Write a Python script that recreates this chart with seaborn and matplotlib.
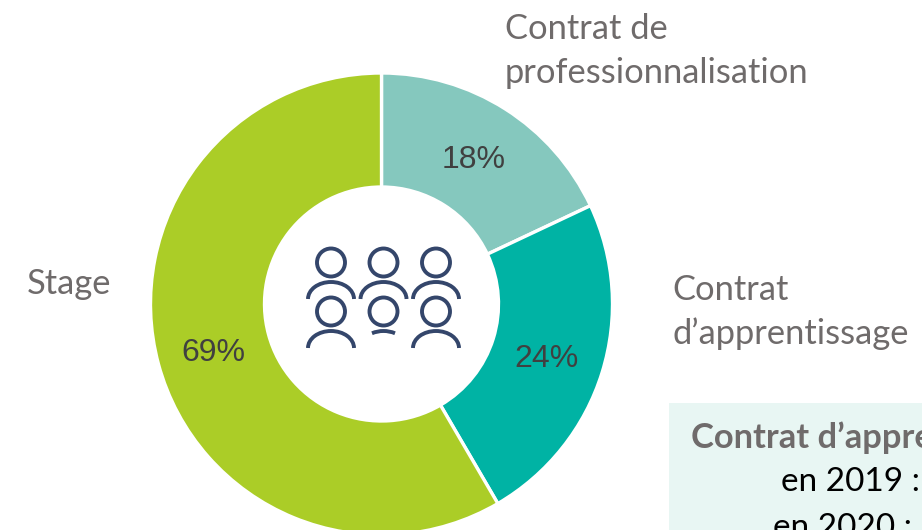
import matplotlib.pyplot as plt
import seaborn as sns
from matplotlib.patches import Arc, Circle, Rectangle

# data
categories = ["Contrat de\nprofessionnalisation", "Contrat\nd\u2019apprentissage", "Stage"]
# wedge sizes as drawn in the picture
wedge_sizes = [18, 23.6, 58.4]
# labels as printed in the picture
pct_labels = ["18%", "24%", "69%"]
colors = ["#85C8BE", "#00B3A4", "#ABCD27"]

W, H = 922, 530
GREY = "#6F6B6B"
NAVY = "#34466B"
TEXT = "#404040"
NARROW = ["Lato", "Roboto", "DejaVu Sans"]

sns.set_theme(style="white")
plt.rcParams["font.family"] = ["Liberation Sans", "DejaVu Sans"]


def fy(y):
    # pixel y from the top -> axes y
    return H - y


fig = plt.figure(figsize=(W / 100, H / 100), dpi=100)
ax = fig.add_axes([0, 0, 1, 1])

cx, cy, r_out, r_in = 381.5, fy(304), 231, 117
wedges, _ = ax.pie(wedge_sizes, colors=sns.color_palette(colors), startangle=90,
                   counterclock=False, center=(cx, cy), radius=r_out,
                   wedgeprops=dict(width=r_out - r_in, edgecolor="white", linewidth=2.4))
ax.set_xlim(0, W)
ax.set_ylim(0, H)
ax.set_aspect("equal")
ax.axis("off")

# percent labels
for lab, x, y in zip(pct_labels, [474, 547, 213], [160, 359, 353]):
    ax.text(x, fy(y), lab, fontsize=23, color=TEXT, ha="center", va="center")

# category labels
for lab, x, y in zip(categories, [505, 672, 27], [51, 312, 284]):
    ax.text(x, fy(y), lab, fontsize=24.8, color=GREY, ha="left", va="center",
            family=NARROW, linespacing=1.45)

# icon: people
for hx in [331, 383.5, 436]:
    for row, (hy, by) in enumerate([(262.5, 299), (311.5, 348)]):
        ax.add_patch(Circle((hx, fy(hy)), 14, fill=False, ec=NAVY, lw=2.8))
        t1, t2 = (0, 180)
        if row == 1 and hx == 383.5:
            t1, t2 = (52, 128)
        ax.add_patch(Arc((hx, fy(by)), 46, 34, theta1=t1, theta2=t2, color=NAVY, lw=2.8))

# side box, cut by the picture edge
ax.add_patch(Rectangle((669, 0), W - 669, fy(403), fc="#E8F6F3", ec="none"))
ax.text(691, fy(438), "Contrat d\u2019apprentissage", fontsize=24.8, color=GREY,
        fontweight="bold", ha="left", va="center", family=NARROW)
for lab, x, y in zip(["en 2019 :", "en 2020 : 1"], [781, 773], [482, 528]):
    ax.text(x, fy(y), lab, fontsize=24, color="black", ha="left", va="center", family=NARROW)

fig.savefig("out.png", dpi=100)
